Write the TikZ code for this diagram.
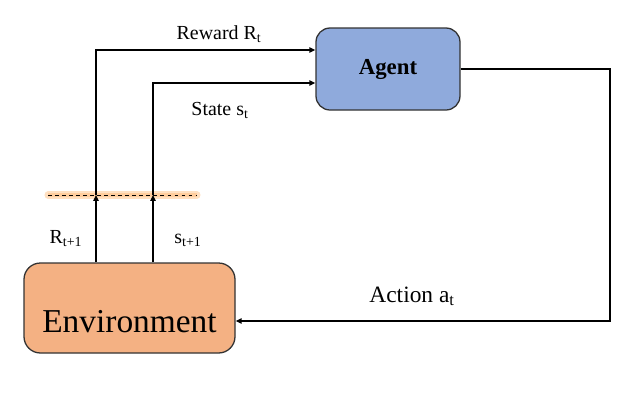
\documentclass[tikz,border=0pt]{standalone}
\usepackage{fontspec}
\setmainfont{Liberation Serif}
\usetikzlibrary{positioning, arrows.meta}

\begin{document}
\begin{tikzpicture}[x=0.03cm,y=-0.03cm,line width=1.1pt,>={Triangle[length=5pt,width=4.5pt]},
    box/.style={draw=black!80,rounded corners=12pt,inner sep=0pt},
    lbl/.style={anchor=base,font=\fontsize{17}{19}\selectfont}]
       \useasboundingbox (0,0) rectangle (634,406);
       \node[box,fill={rgb,255:red,143;green,170;blue,220},minimum width=144*0.03cm,minimum height=82*0.03cm,
             font=\bfseries\fontsize{19.5}{22}\selectfont] (agent) at (388,69) {Agent};
       \node[box,fill={rgb,255:red,244;green,177;blue,131},rounded corners=14pt,minimum width=211*0.03cm,minimum height=90*0.03cm,
             font=\fontsize{28.5}{32}\selectfont] (env) at (129.5,308) {\raisebox{-12pt}[\height][\depth]{Environment}};

       % glow and dashed line
       \coordinate (gl) at (48,195);
       \coordinate (gr) at (197,195);
       \draw[line width=6pt,orange!70,opacity=0.35,line cap=round] (gl) -- (gr);
       \draw[line width=3pt,orange!60,opacity=0.4] (gl) -- (gr);
       \draw[line width=0.8pt,dashed] (gl) -- (gr);

       \coordinate (r) at (96,195);
       \coordinate (s) at (153,195);

       \draw[->] (env.north -| r) -- (r);
       \draw[->] (env.north -| s) -- (s);
       \draw[->] (r) -- (96,50) -- (agent.west |- 0,50);
       \draw[->] (s) -- (153,83) -- (agent.west |- 0,83);
       \draw[->] (agent.east) -- (610,69) -- (610,321) -- (env.east |- 0,321);

       \node[lbl] (rew) at (219,39) {Reward R\textsubscript{t}};
       \node[lbl] (st) at (220,115) {State s\textsubscript{t}};
       \node[lbl] (rt1) at (66,243) {R\textsubscript{t+1}};
       \node[lbl] (st1) at (188,243) {s\textsubscript{t+1}};
       \node[lbl,font=\fontsize{20}{22}\selectfont] (act) at (412,302) {Action a\textsubscript{t}};
    \end{tikzpicture}
\end{document}
